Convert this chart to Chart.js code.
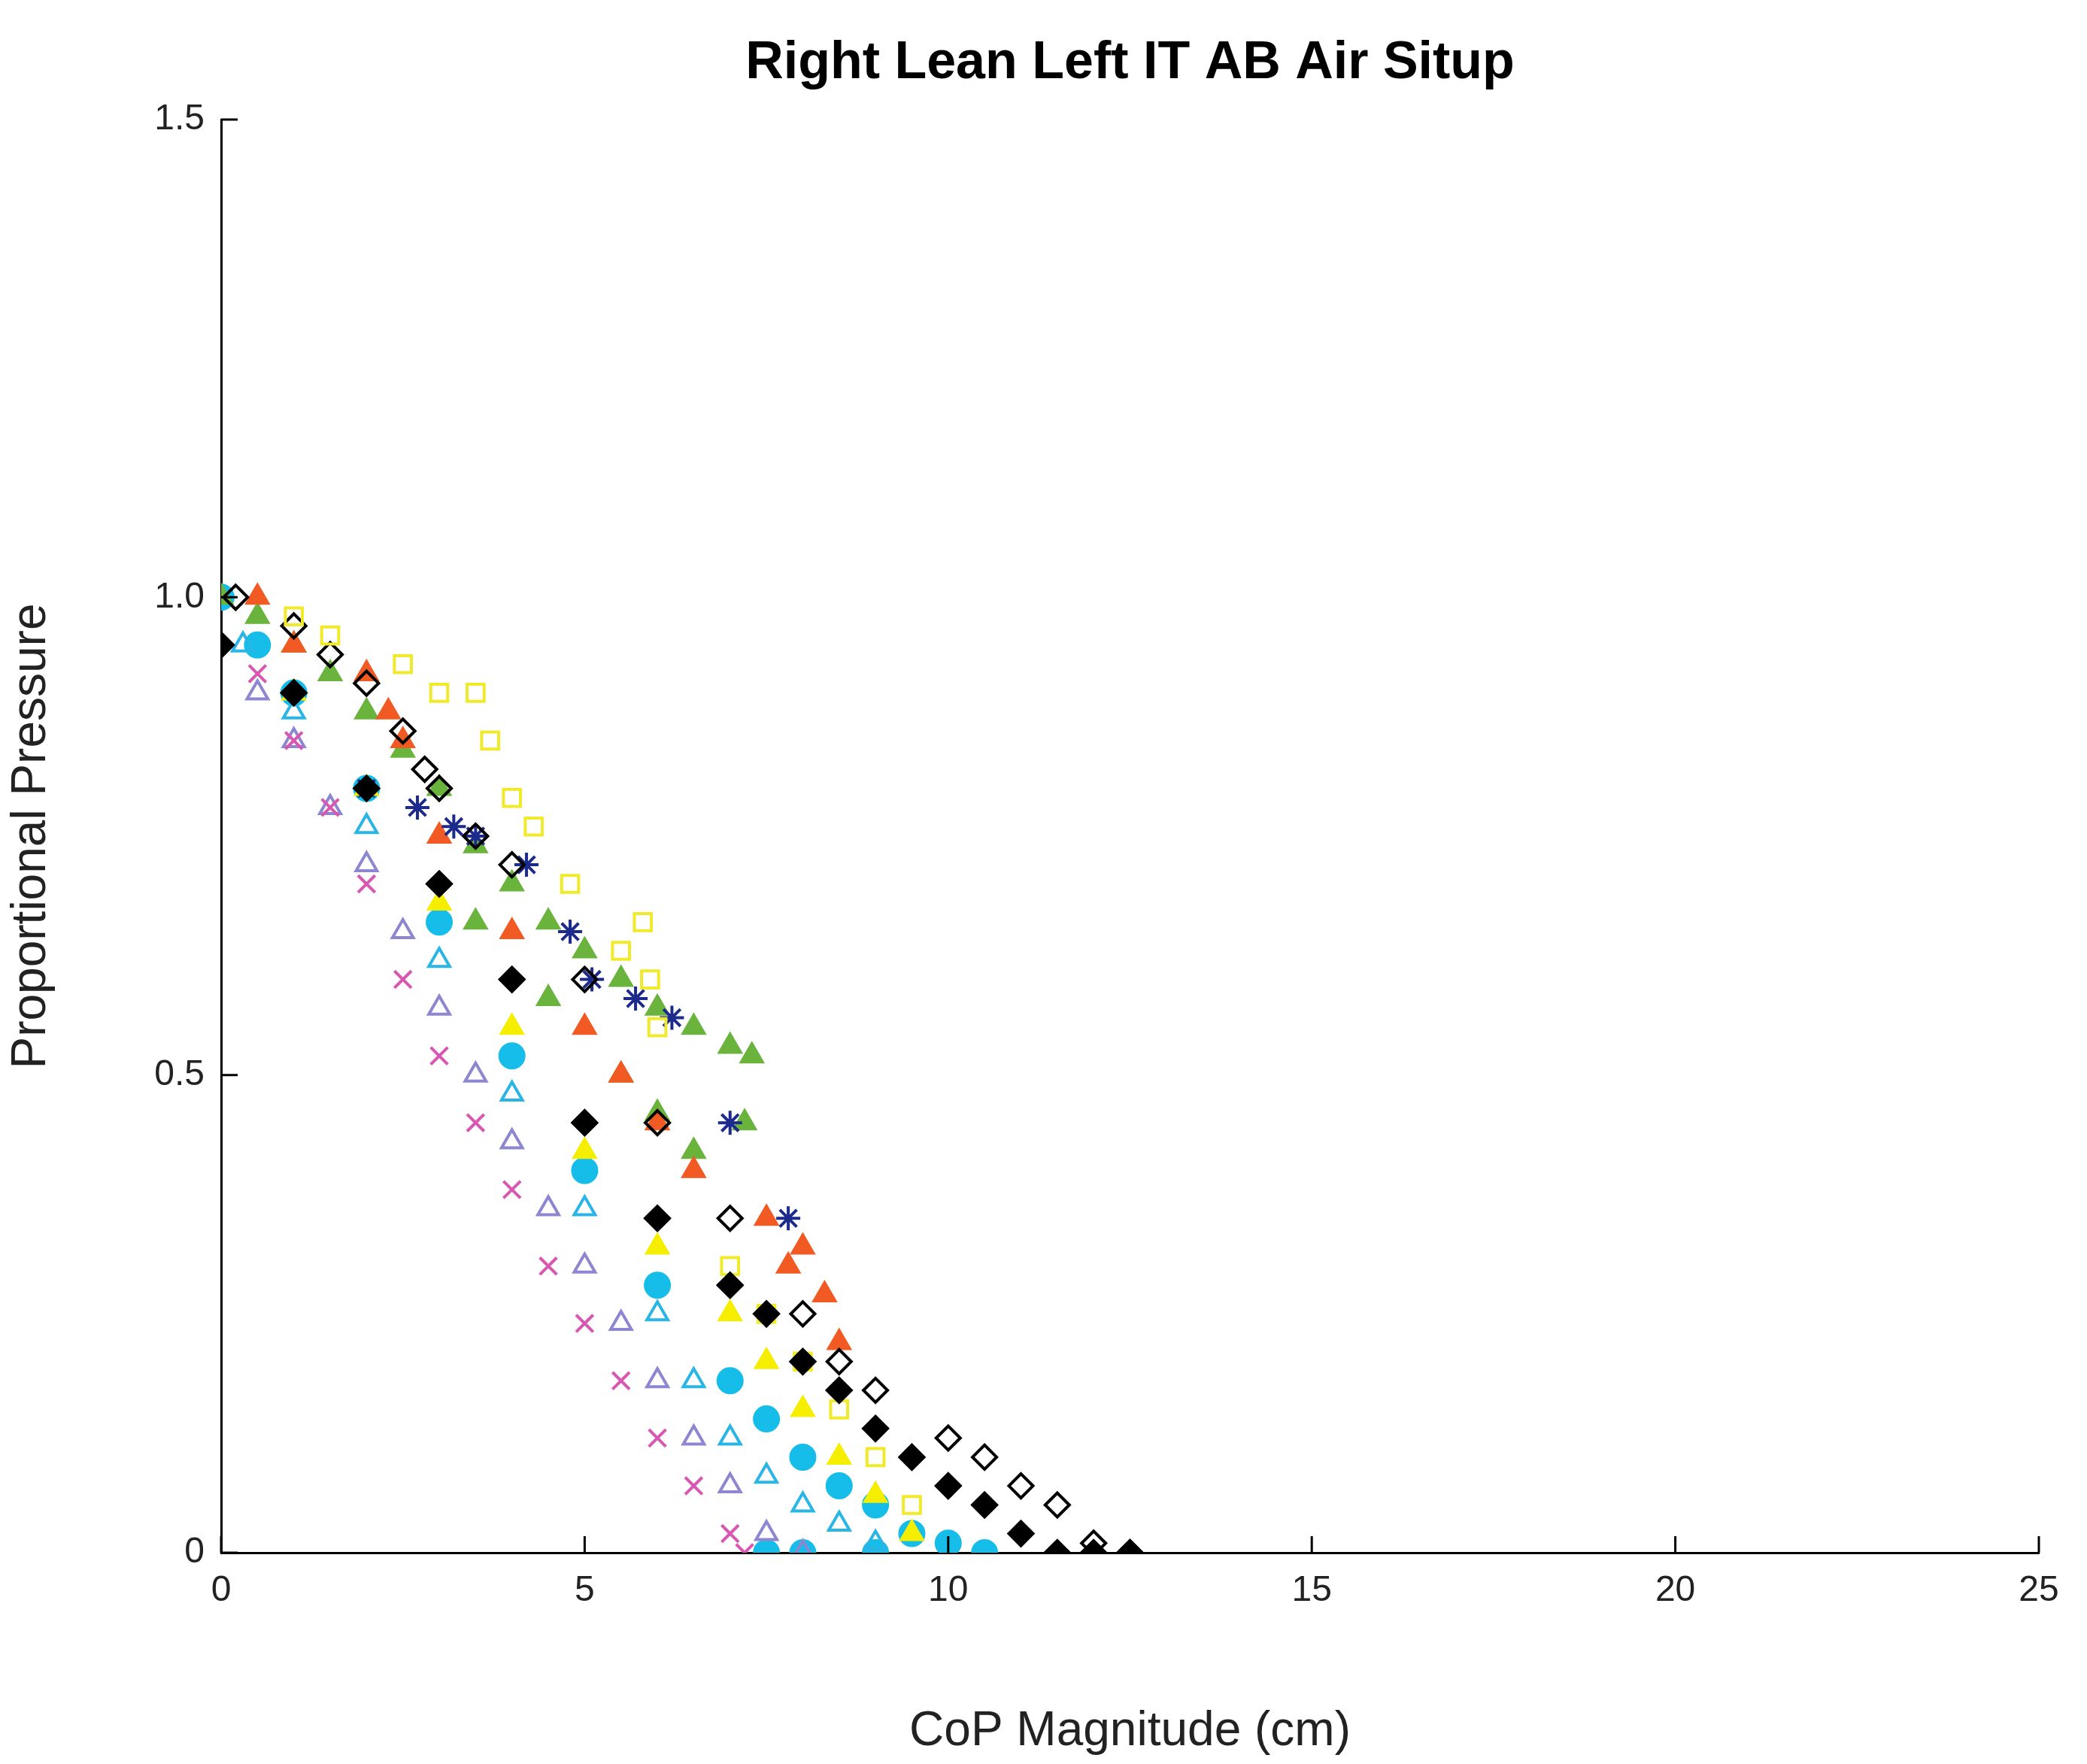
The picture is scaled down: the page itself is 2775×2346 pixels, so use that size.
<!DOCTYPE html>
<html>
<head>
<meta charset="utf-8">
<script src="https://cdn.jsdelivr.net/npm/chart.js@4/dist/chart.umd.min.js"></script>
<style>
  html, body { margin: 0; padding: 0; background: #fff; }
</style>
</head>
<body>
<canvas id="chart" width="2775" height="2346"></canvas>
<script>
// values: [CoP magnitude (cm), proportional pressure]
const yellowSquares = [[1,0.98],[1.5,0.96],[2.5,0.93],[3,0.9],[3.5,0.9],[3.7,0.85],[4,0.79],[4.3,0.76],[4.8,0.7],[5.5,0.63],[5.8,0.66],[5.9,0.6],[6,0.55],[7,0.3],[7.5,0.25],[8,0.2],[8.5,0.15],[9,0.1],[9.5,0.05]];
const blackDiamonds = [[0.2,1.0],[1,0.97],[1.5,0.94],[2,0.91],[2.5,0.86],[2.8,0.82],[3,0.8],[3.5,0.75],[4,0.72],[5,0.6],[6,0.45],[7,0.35],[8,0.25],[8.5,0.2],[9,0.17],[10,0.12],[10.5,0.1],[11,0.07],[11.5,0.05],[12,0.01],[12.5,0]];
const navyStars = [[2,0.8],[2.7,0.78],[3.2,0.76],[3.5,0.75],[4.2,0.72],[4.8,0.65],[5.1,0.6],[5.7,0.58],[6.2,0.56],[7,0.45],[7.8,0.35]];
const orangeTriangles = [[0.5,1],[1,0.95],[2,0.92],[2.3,0.88],[2.5,0.85],[3,0.75],[4,0.65],[5,0.55],[5.5,0.5],[6,0.45],[6.5,0.4],[7.5,0.35],[7.8,0.3],[8,0.32],[8.3,0.27],[8.5,0.22]];
const blackFilled = [[0,0.95],[1,0.9],[2,0.8],[3,0.7],[4,0.6],[5,0.45],[6,0.35],[7,0.28],[7.5,0.25],[8,0.2],[8.5,0.17],[9,0.13],[9.5,0.1],[10,0.07],[10.5,0.05],[11,0.02],[11.5,0],[12,0],[12.5,0]];
const greenTriangles = [[0,1],[0.5,0.98],[1,0.95],[1.5,0.92],[2,0.88],[2.5,0.84],[3,0.8],[3.5,0.74],[4,0.7],[4.5,0.66],[5,0.63],[5.5,0.6],[6,0.57],[6.5,0.55],[7,0.53],[7.3,0.52],[7.2,0.45],[6.5,0.42],[6,0.46],[5.5,0.5],[4.5,0.58],[3.5,0.66]];
const magentaX = [[0.5,0.92],[1,0.85],[1.5,0.78],[2,0.7],[2.5,0.6],[3,0.52],[3.5,0.45],[4,0.38],[4.5,0.3],[5,0.24],[5.5,0.18],[6,0.12],[6.5,0.07],[7,0.02],[7.2,0]];
const violetTriangles = [[0.5,0.9],[1,0.85],[1.5,0.78],[2,0.72],[2.5,0.65],[3,0.57],[3.5,0.5],[4,0.43],[4.5,0.36],[5,0.3],[5.5,0.24],[6,0.18],[6.5,0.12],[7,0.07],[7.5,0.02],[8,0]];
const yellowDots = [[1,0.9],[2,0.8],[3,0.68],[4,0.55],[5,0.42],[6,0.32],[7,0.25],[7.5,0.2],[8,0.15],[8.5,0.1],[9,0.06],[9.5,0.02]];
const cyanDots = [[0,1],[0.5,0.95],[1,0.9],[2,0.8],[3,0.66],[4,0.52],[5,0.4],[6,0.28],[7,0.18],[7.5,0.14],[8,0.1],[8.5,0.07],[9,0.05],[9.5,0.02],[10,0.01],[10.5,0],[9,0],[8,0],[7.5,0]];
const cyanTriangles = [[0.3,0.95],[1,0.88],[2,0.76],[3,0.62],[4,0.48],[5,0.36],[6,0.25],[6.5,0.18],[7,0.12],[7.5,0.08],[8,0.05],[8.5,0.03],[9,0.01]];

const xTicks = [0, 5, 10, 15, 20, 25];
const yTicks = [0, 0.5, 1, 1.5];

function pts(arr) { return arr.map(p => ({x: p[0], y: p[1]})); }

function series(data, style, color, fill) {
  return {
    data: pts(data),
    pointStyle: style,
    borderColor: color,
    backgroundColor: fill ? color : 'rgba(0,0,0,0)',
    pointRadius: 16,
    pointBorderWidth: 4,
    showLine: false
  };
}

const insideTicks = {
  id: 'insideTicks',
  afterDraw(chart) {
    const ctx = chart.ctx, a = chart.chartArea;
    const xs = chart.scales.x, ys = chart.scales.y;
    ctx.save();
    ctx.strokeStyle = '#000';
    ctx.lineWidth = 3;
    ctx.beginPath();
    xTicks.forEach(v => { const p = xs.getPixelForValue(v); ctx.moveTo(p, a.bottom); ctx.lineTo(p, a.bottom - 22); });
    yTicks.forEach(v => { const p = ys.getPixelForValue(v); ctx.moveTo(a.left, p); ctx.lineTo(a.left + 22, p); });
    ctx.stroke();
    ctx.fillStyle = '#000';
    ctx.font = 'bold 70px "Liberation Sans", Arial, sans-serif';
    ctx.textAlign = 'center';
    ctx.textBaseline = 'middle';
    ctx.fillText('Right Lean Left IT AB Air Situp', (a.left + a.right) / 2, 85);
    ctx.restore();
  }
};

new Chart(document.getElementById('chart'), {
  type: 'scatter',
  data: {
    datasets: [
      series(blackFilled, 'rectRot', '#000000', true),
      series(yellowSquares, 'rect', '#f0ea2a', false),
      series(yellowDots, 'triangle', '#f5ee00', true),
      series(blackDiamonds, 'rectRot', '#000000', false),
      series(navyStars, 'star', '#1c2a8c', false),
      series(orangeTriangles, 'triangle', '#f15a22', true),
      series(magentaX, 'crossRot', '#d957b0', false),
      series(violetTriangles, 'triangle', '#8d87d2', false),
      series(greenTriangles, 'triangle', '#6ab43e', true),
      series(cyanTriangles, 'triangle', '#29b6e6', false),
      series(cyanDots, 'circle', '#15bde8', true)
    ]
  },
  options: {
    responsive: false,
    animation: false,
    devicePixelRatio: 1,
    layout: { padding: { top: 159, right: 64, left: 0, bottom: 0 } },
    plugins: { legend: { display: false }, tooltip: { enabled: false } },
    scales: {
      x: {
        type: 'linear', min: 0, max: 25,
        afterBuildTicks: s => { s.ticks = xTicks.map(v => ({value: v})); },
        afterFit: s => { s.height = 281; },
        grid: { display: false },
        border: { display: true, color: '#000', width: 3 },
        ticks: { color: '#222', font: { size: 48, family: '"Liberation Sans", Arial' }, padding: 14, maxRotation: 0 },
        title: { display: true, text: 'CoP Magnitude (cm)', color: '#222', font: { size: 64, family: '"Liberation Sans", Arial' }, padding: { top: 20 } }
      },
      y: {
        type: 'linear', min: 0, max: 1.5,
        afterBuildTicks: s => { s.ticks = yTicks.map(v => ({value: v})); },
        afterFit: s => { s.width = 294; },
        grid: { display: false },
        border: { display: true, color: '#000', width: 3 },
        ticks: { color: '#222', font: { size: 48, family: '"Liberation Sans", Arial' }, padding: 14 },
        title: { display: true, text: 'Proportional Pressure', color: '#222', font: { size: 64, family: '"Liberation Sans", Arial' }, padding: { bottom: 20 } }
      }
    }
  },
  plugins: [insideTicks]
});
</script>
</body>
</html>
